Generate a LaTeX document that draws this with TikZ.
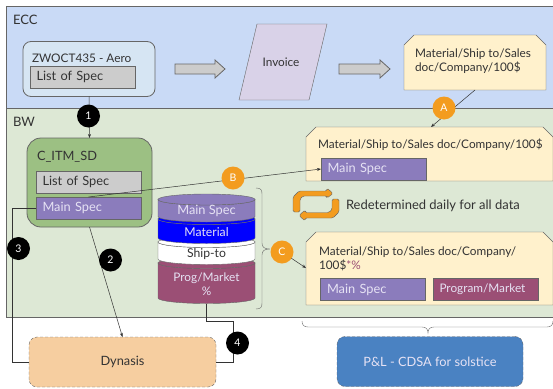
\documentclass[tikz,border=0pt]{standalone}
\usepackage{fontspec}
\setmainfont{Lato}
\usetikzlibrary{arrows.meta}

\definecolor{eccblue}{HTML}{C9DAF6}
\definecolor{bwgreen}{HTML}{DDE8D5}
\definecolor{zwblue}{HTML}{D6E5F3}
\definecolor{citmgreen}{HTML}{9CC083}
\definecolor{specgray}{HTML}{CCCCCC}
\definecolor{specpurple}{HTML}{8B7CBC}
\definecolor{progplum}{HTML}{9B4F75}
\definecolor{tanfill}{HTML}{FFF1CC}
\definecolor{invfill}{HTML}{D9D2E8}
\definecolor{dynfill}{HTML}{F6CEA0}
\definecolor{plblue}{HTML}{4A82C2}
\definecolor{badgeorange}{HTML}{F39C1F}
\definecolor{edgegray}{HTML}{666666}
\definecolor{inkgray}{HTML}{333333}
\definecolor{paletext}{HTML}{E6E2F4}

\tikzset{
    every node/.style={font=\fontsize{11.8}{14}\selectfont, text=inkgray, inner sep=0pt, outer sep=0pt},
    bigtext/.style={font=\fontsize{12.8}{14}\selectfont},
    specbox/.style={draw=edgegray, thick, minimum width=105pt, minimum height=22pt, text width=92pt, align=left, bigtext},
    tanbox/.style={draw=edgegray, fill=tanfill},
    dashbox/.style={draw=edgegray, densely dashed, rounded corners=8pt, minimum width=187pt, minimum height=50pt, bigtext},
    badge/.style={circle, minimum size=23pt, font=\fontsize{10.5}{11}\selectfont, text=white},
    wire/.style={draw=inkgray, line width=0.5pt},
    wirearrow/.style={wire, -{Stealth[length=4pt,width=3pt]}},
    fatarrow/.style={fill=specgray, draw=edgegray, thick},
    cylseg/.style={draw=edgegray},
}

\begin{document}
\begin{tikzpicture}[x=1pt, y=-1pt]
    \useasboundingbox (0,0) rectangle (553,388);
    \clip (0,0) rectangle (553,388);
    % ECC and BW bands
    \draw[edgegray, thick, fill=eccblue] (6,6.5) rectangle (556,108);
    \draw[edgegray, thick, fill=bwgreen] (6,108) rectangle (556,317);
    \node[anchor=west, font=\fontsize{13}{14}\selectfont] (ecclabel) at (13,20) {ECC};
    \node[anchor=west, font=\fontsize{13}{14}\selectfont] (bwlabel) at (13,122) {BW};

    % Source table in ECC
    \node[draw=edgegray, thick, fill=zwblue, rounded corners=8pt, minimum width=132pt, minimum height=55pt] (zwoct) at (89,69) {};
    \node[anchor=west] (zwocttitle) at (32,58) {ZWOCT435 - Aero};
    \node[specbox, fill=specgray] (zwlist) at (82.5,77) {List of Spec};

    % Block arrows and invoice
    \draw[fatarrow] (175,64) -- (215,64) -- (215,60) -- (225,69) -- (215,78) -- (215,74) -- (175,74) -- cycle;
    \draw[fatarrow] (339,64) -- (380,64) -- (380,60) -- (390,69) -- (380,78) -- (380,74) -- (339,74) -- cycle;
    \draw[edgegray, fill=invfill] (257,24) -- (327,24) -- (309,100) -- (239,100) -- cycle;
    \node (invoice) at (281,62) {Invoice};

    % Report definition in ECC and BW
    \draw[tanbox] (404,90) -- (404,45) -- (414,35) -- (536,35) -- (546,45) -- (546,90) -- cycle;
    \coordinate (ecctansouth) at (475,90);
    \node[anchor=west, align=left] (ecctantext) at (415,61) {Material/Ship to/Sales\\doc/Company/100\$};
    \draw[tanbox] (306,181) -- (306,137) -- (316,127) -- (543,127) -- (553,137) -- (553,181) -- cycle;
    \coordinate (bwtannorth) at (431,127);
    \node[anchor=west] (bwtantext) at (318,145) {Material/Ship to/Sales doc/Company/100\$};
    \node[specbox, fill=specpurple, text=paletext] (bwmain) at (373.5,169) {Main Spec};

    % C_ITM_SD with its two fields
    \node[draw=edgegray, thick, fill=citmgreen, rounded corners=14pt, minimum width=125pt, minimum height=89pt] (citm) at (89.5,182.5) {};
    \node[anchor=west, bigtext] (citmtitle) at (37,157) {C\_ITM\_SD};
    \node[specbox, fill=specgray] (citmlist) at (88.5,182) {List of Spec};
    \node[specbox, fill=specpurple, text=paletext] (citmmain) at (88.5,208) {Main Spec};

    % Stacked cylinder, bottom segment first
    \foreach \top/\bot/\col in {263/298/progplum, 242/259/white, 219/238/blue, 199.5/216.5/specpurple} {
        \draw[cylseg, fill=\col] (158,\top) -- (158,\bot) arc[start angle=180, end angle=0, x radius=48.5, y radius=5.5] -- (255,\top) arc[start angle=0, end angle=180, x radius=48.5, y radius=5.5] -- cycle;
        \draw[cylseg, fill=\col] (206.5,\top) ellipse[x radius=48.5, y radius=5.5];
    }
    \node[text=paletext, bigtext] (cylmain) at (206.5,211) {Main Spec};
    \node[text=paletext, font=\fontsize{12.2}{14}\selectfont] (cylmaterial) at (206.5,232) {Material};
    \node[font=\fontsize{12.2}{14}\selectfont] (cylship) at (206.5,254) {Ship-to};
    \node[text=paletext, align=center] (cylprog) at (206.5,284) {Prog/Market\\\%};
    \coordinate (cylbottom) at (206.5,303.5);

    % Braces
    \draw[edgegray] (256,188) .. controls (261,188) and (262,190) .. (262,194) -- (262,243) .. controls (262,247) and (264,249) .. (270,249) .. controls (264,249) and (262,251) .. (262,255) -- (262,303) .. controls (262,307) and (261,309) .. (256,309);
    \draw[edgegray] (302,321) .. controls (302,325) and (304,327) .. (308,327) -- (422,327) .. controls (426,327) and (428,329) .. (428,333) .. controls (428,329) and (430,327) .. (434,327) -- (547,327) .. controls (551,327) and (553,325) .. (553,321);

    % Refresh icon and its text
    \draw[edgegray, fill=badgeorange, rounded corners=1.5pt] (293,212) -- (293,197) -- (299,191) -- (327,191) -- (327,188) -- (333,193.5) -- (327,198) -- (327,196) -- (303,196) -- (300,199) -- (300,212) -- cycle;
    \draw[edgegray, fill=badgeorange, rounded corners=1.5pt] (339,199) -- (339,212) -- (333,218) -- (305,218) -- (305,221) -- (299,215.5) -- (305,210) -- (305,212.5) -- (329,212.5) -- (332,209.5) -- (332,199) -- cycle;
    \node[anchor=west, font=\fontsize{13}{14}\selectfont] (redetermined) at (346,206) {Redetermined daily for all data};

    % Report with market percentage
    \draw[tanbox] (306,305) -- (306,242) -- (316,232) -- (543,232) -- (553,242) -- (553,305) -- cycle;
    \coordinate (pcttanwest) at (306,268);
    \node[anchor=west, align=left] (pcttext) at (319,259) {Material/Ship to/Sales doc/Company/\\100\$\textcolor{progplum}{*\%}};
    \node[specbox, fill=specpurple, text=paletext] (pctmain) at (373,289.5) {Main Spec};
    \node[specbox, fill=progplum, text=paletext, font=\fontsize{11.8}{14}\selectfont] (pctprog) at (485.5,289.5) {Program/Market};

    % Targets below the bands
    \node[dashbox, fill=dynfill] (dynasis) at (122.5,362) {Dynasis};
    \node[dashbox, fill=plblue, text=paletext, minimum width=186pt] (pandl) at (430,361.5) {P\&L - CDSA for solstice};

    % Connectors
    \coordinate (railthree) at (12.5,362);
    \coordinate (railfour) at (233,321);
    \coordinate (spotC) at (282,252);
    \draw[wirearrow] (zwoct.south) -- (citm.north);
    \draw[wirearrow] (citm.south) -- (dynasis.north);
    \draw[wirearrow] (citmmain.north) -- (bwmain.west);
    \draw[wirearrow] (ecctansouth) -- (bwtannorth);
    \draw[wirearrow] (spotC) -- (pcttanwest);
    \draw[wire] (citmmain.west) -| (railthree) -- (dynasis.west);
    \draw[wire] (cylbottom) |- (railfour) |- (dynasis.east);

    % Badges on top of the wires
    \foreach \name/\col/\lab/\pos in {badgeone/black/1/{88.5,116}, badgetwo/black/2/{110.5,260}, badgethree/black/3/{18.5,248.5}, badgefour/black/4/{237.5,343}, badgeA/badgeorange/A/{444,108}, badgeB/badgeorange/B/{233,178}, badgeC/badgeorange/C/{282,252}}
        \node[badge, fill=\col] (\name) at (\pos) {\lab};
\end{tikzpicture}
\end{document}
